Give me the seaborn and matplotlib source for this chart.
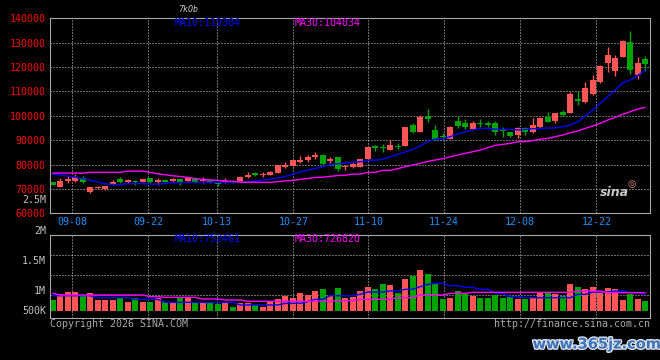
import matplotlib
matplotlib.use('Agg')
import matplotlib.pyplot as plt
import matplotlib.patheffects as pe
import matplotlib.transforms as mtransforms
import seaborn as sns
import numpy as np
import pandas as pd

# ----------- Data -----------
opens = [72960, 70900, 73300, 73400, 74600, 68700, 70300, 70000, 71900, 74000,
         72900, 73300, 72800, 74500, 72800, 73600, 73100, 74000, 73200, 74000,
         73200, 73500, 72400, 72600, 73300, 73000, 75000, 76700, 75900, 75900,
         76700, 79200, 79500, 81000, 81900, 83000, 84000, 81500, 83000, 79100,
         79200, 79000, 82300, 87500, 87000, 86000, 87700, 87700, 96200, 93500,
         100000, 94200, 91700, 90500, 98000, 96900, 94600, 96800, 97200, 96900,
         94400, 93300, 92100, 94800, 93500, 95500, 99500, 98000, 101400, 101300,
         107000, 105800, 108900, 113900, 121500, 118400, 124100, 130300, 116700, 123300]
highs = [73000, 74300, 75300, 76000, 75300, 70700, 71000, 71300, 73500, 74800,
         74000, 73700, 74100, 74600, 74600, 74200, 74600, 74400, 74900, 74300,
         75000, 73900, 72600, 74500, 73600, 75300, 76900, 76800, 76800, 77400,
         79900, 81000, 82000, 83500, 83900, 85100, 84300, 83200, 83300, 79800,
         81200, 82500, 87300, 88000, 88300, 90000, 88700, 95600, 96900, 100300,
         102800, 96200, 92800, 95700, 99900, 98700, 97700, 98700, 97700, 98000,
         95500, 93500, 95500, 95250, 98950, 99600, 101550, 101300, 102400, 109900,
         110000, 114000, 116700, 120800, 128400, 124900, 131100, 134800, 124000, 124500]
lows = [71500, 70800, 72300, 73000, 72300, 68400, 70000, 69600, 71500, 72300,
        72500, 71800, 72700, 72500, 71600, 72700, 72900, 71600, 73000, 72600,
        72300, 72400, 71400, 72400, 72400, 72900, 74300, 75300, 75000, 75700,
        76500, 78700, 79300, 80500, 81000, 82100, 80300, 80500, 77500, 77800,
        78600, 78800, 82000, 85700, 85300, 85800, 86200, 87500, 92800, 93200,
        97600, 90100, 90300, 90300, 95100, 94400, 94400, 95500, 95500, 92300,
        91400, 91500, 91000, 92100, 92800, 94800, 97300, 97200, 99900, 101000,
        104400, 105100, 108500, 113600, 118100, 116300, 124000, 117100, 114950, 118400]
closes = [71600, 73120, 74000, 74800, 72700, 70600, 70600, 71100, 73000, 72800,
          73600, 72800, 74000, 72800, 73500, 73000, 74200, 72700, 74300, 72700,
          73600, 73000, 71900, 73200, 72600, 74900, 75800, 75800, 76300, 77100,
          79800, 79800, 81900, 82000, 83200, 83900, 80400, 82400, 78000, 79500,
          80300, 82300, 87200, 86600, 86600, 88000, 87000, 95400, 93200, 99600,
          98700, 90500, 91200, 95300, 95900, 95500, 96900, 96500, 96200, 93500,
          93800, 91700, 94800, 93200, 96100, 98950, 97600, 101000, 100500, 108900,
          106200, 111300, 114700, 120600, 124900, 123850, 130700, 118800, 121800, 121400]
ma10 = [76000, 75700, 75300, 74800, 74200, 73600, 72800, 72100, 71800, 71800,
        72200, 72200, 72200, 72000, 71900, 72300, 72600, 72600, 72700, 72700,
        72700, 72700, 72700, 72700, 72800, 72800, 72900, 73240, 73650, 74060,
        74470, 75150, 75980, 76930, 77760, 78300, 79120, 79940, 80350, 80630,
        81000, 81100, 81700, 81800, 82130, 83220, 84180, 85140, 86230, 87600,
        89380, 90470, 90600, 91430, 92520, 93480, 94170, 94850, 94850, 94500,
        94430, 94430, 94160, 94400, 94700, 94700, 94980, 94980, 95530, 96210,
        97580, 99900, 102370, 105100, 107840, 110570, 113580, 114680, 116460, 118780]
ma30 = [76500, 76500, 76500, 76500, 76500, 76800, 76800, 76800, 76800, 76800,
        77300, 77300, 77300, 76800, 76200, 75800, 75400, 75100, 74700, 74300,
        73900, 73650, 73500, 73250, 73100, 72800, 72700, 72700, 72700, 72700,
        72960, 73300, 73500, 73900, 74300, 74700, 74800, 75150, 75500, 75600,
        76100, 76100, 76790, 76790, 77620, 77620, 78300, 79120, 79800, 80480,
        81300, 81850, 82400, 83220, 83900, 84590, 85270, 85960, 86920, 87870,
        88280, 88690, 89370, 89370, 89780, 90400, 90740, 91420, 92100, 93060,
        93750, 94840, 95800, 96900, 98260, 99350, 100590, 101680, 102780, 103460]
# volume in thousands
volume = [850, 944, 983, 983, 933, 967, 850, 850, 850, 889,
          822, 878, 822, 822, 889, 822, 806, 878, 878, 806,
          806, 806, 789, 806, 739, 794, 794, 767, 739, 822,
          867, 922, 889, 972, 933, 1006, 1033, 922, 1056, 889,
          906, 1000, 1067, 1033, 1117, 1100, 972, 1200, 1250, 1350,
          1283, 1117, 867, 889, 1000, 944, 917, 889, 889, 933,
          878, 906, 867, 867, 889, 978, 972, 950, 922, 1117,
          1067, 1033, 1067, 989, 1050, 1033, 850, 950, 867, 833]
vol_ma10 = [922, 922, 922, 922, 922, 922, 889, 889, 889, 889,
            889, 861, 861, 861, 861, 811, 811, 811, 811, 811,
            811, 811, 811, 811, 811, 767, 767, 767, 767, 767,
            767, 794, 794, 794, 822, 861, 861, 922, 922, 922,
            922, 944, 983, 983, 983, 1000, 1000, 1028, 1028, 1072,
            1111, 1128, 1128, 1089, 1089, 1061, 1061, 1028, 1028, 961,
            961, 906, 906, 889, 889, 889, 889, 889, 889, 889,
            944, 944, 983, 983, 983, 1000, 1000, 972, 972, 944]
vol_ma30 = [961, 933, 933, 933, 933, 933, 933, 933, 933, 933,
            933, 933, 933, 906, 906, 894, 894, 894, 894, 894,
            867, 867, 867, 850, 850, 850, 828, 828, 828, 828,
            828, 828, 828, 828, 828, 828, 828, 828, 839, 839,
            839, 861, 861, 861, 861, 861, 889, 889, 889, 933,
            933, 933, 933, 961, 961, 961, 978, 978, 978, 978,
            978, 978, 978, 978, 978, 978, 978, 978, 978, 978,
            1000, 1000, 1000, 1000, 972, 972, 972, 972, 972, 972]
vol_base = 667  # bars start here (thousands)

date_labels = ['09-08', '09-22', '10-13', '10-27', '11-10', '11-24', '12-08', '12-22']
date_pos = [2.6, 12.75, 21.9, 32.1, 42.1, 52.2, 62.3, 72.5]
price_ticks = [60000, 70000, 80000, 90000, 100000, 110000, 120000, 130000, 140000]
vol_labels = ['2M', '1.5M', '1M', '500K']
vol_label_vals = [2000, 1500, 1000, vol_base]
vol_grid = [1600, 1267, 933]

df = pd.DataFrame({'o': opens, 'h': highs, 'l': lows, 'c': closes,
                   'ma10': ma10, 'ma30': ma30,
                   'vol': np.array(volume) * 1000,
                   'vma10': np.array(vol_ma10) * 1000,
                   'vma30': np.array(vol_ma30) * 1000})
df['i'] = np.arange(len(df))

RED = '#ff5555'
GREEN = '#00a400'
GRID = '#d0d0d0'
FRAME = '#a8a8a8'
colors = np.where(df.c >= df.o, RED, GREEN)

# ----------- Style -----------
sns.set_theme(style='dark', rc={'axes.facecolor': 'black', 'figure.facecolor': 'black',
                                'axes.edgecolor': FRAME, 'axes.linewidth': 0.8})
plt.rcParams['font.family'] = ['DejaVu Sans Mono']
FS = 7.2

fig = plt.figure(figsize=(6.6, 3.6), dpi=100)
ax = fig.add_axes([50 / 660, 1 - 213.3 / 360, 600 / 660, 195 / 360])
axv = fig.add_axes([50 / 660, 1 - 318 / 360, 600 / 660, 83 / 360])

# ----------- Candles -----------
ax.vlines(df.i, df.l, df.h, color=colors, lw=1)
body = np.maximum((df.c - df.o).abs(), 350)
ax.bar(df.i, body, bottom=np.minimum(df.o, df.c), width=0.78, color=colors, lw=0)
sns.lineplot(x='i', y='ma10', data=df, ax=ax, color='#0000ff', lw=1)
sns.lineplot(x='i', y='ma30', data=df, ax=ax, color='#ff00ff', lw=1)

ax.set_xlim(-0.36, 79.64)
ax.set_ylim(60000, 140000)
ax.set_yticks(price_ticks)
ax.set_yticklabels([str(t) for t in price_ticks], color='#ff0000', fontsize=FS)
ax.set_xticks(date_pos)
ax.set_xticklabels(date_labels, color='#1e90ff', fontsize=FS)
ax.tick_params(length=0, pad=3)
ax.set_xlabel('')
ax.set_ylabel('')
ax.grid(True, color=GRID, linestyle=(0, (1, 2)), lw=0.72)
for s in ax.spines.values():
    s.set_color(FRAME)

ax.text(0.208, 0.976, 'MA10:119304', color='#0000ff', fontsize=FS,
        transform=ax.transAxes, va='center')
ax.text(0.408, 0.976, 'MA30:104034', color='#ff00ff', fontsize=FS,
        transform=ax.transAxes, va='center')
trans = mtransforms.blended_transform_factory(ax.transAxes, ax.transData)
ax.text(-0.0067, 65400, '2.5M', color='#c0c0c0', fontsize=FS, transform=trans,
        ha='right', va='center')
ax.text(0.94, 68500, 'sina', color='#c8c8c8', fontsize=9, fontweight='bold',
        style='italic', family='DejaVu Sans', transform=trans, ha='center', va='center')
ax.text(0.97, 72200, '◎', color='#ff8c8c', fontsize=7, family='DejaVu Sans',
        transform=trans, ha='center', va='center')

# ----------- Volume -----------
axv.bar(df.i, df.vol - vol_base * 1000, bottom=vol_base * 1000, width=0.82,
        color=colors, lw=0)
sns.lineplot(x='i', y='vma10', data=df, ax=axv, color='#0000ff', lw=1)
sns.lineplot(x='i', y='vma30', data=df, ax=axv, color='#ff00ff', lw=1)
axv.set_xlim(-0.36, 79.64)
axv.set_ylim(550000, 1933333)
axv.set_xticks(date_pos)
axv.set_xticklabels([])
axv.set_yticks([v * 1000 for v in vol_grid])
axv.set_yticklabels([])
axv.tick_params(length=0)
axv.set_xlabel('')
axv.set_ylabel('')
axv.grid(True, color=GRID, linestyle=(0, (1, 2)), lw=0.72)
for s in axv.spines.values():
    s.set_color(FRAME)

vtrans = mtransforms.blended_transform_factory(axv.transAxes, axv.transData)
for lab, v in zip(vol_labels, vol_label_vals):
    axv.text(-0.0067, v * 1000, lab, color='#c0c0c0', fontsize=FS, transform=vtrans,
             ha='right', va='center', clip_on=False)
axv.text(0.208, 0.952, 'MA10:752461', color='#0000ff', fontsize=FS,
         transform=axv.transAxes, va='center')
axv.text(0.408, 0.952, 'MA30:726820', color='#ff00ff', fontsize=FS,
         transform=axv.transAxes, va='center')

# ----------- Footer / header text -----------
fig.text(50 / 660, 1 - 324 / 360, 'Copyright 2026 SINA.COM', color='#a8a8a8',
         fontsize=FS, va='center')
fig.text(650 / 660, 1 - 324 / 360, 'http://finance.sina.com.cn', color='#a8a8a8',
         fontsize=FS, va='center', ha='right')
fig.text(188 / 660, 1 - 9 / 360, '7kOb', color='#c8c8c8', fontsize=6,
         style='italic', va='center', ha='center')
fig.text(597 / 660, 1 - 344 / 360, 'www.365jz.com', color='#3f72b5', fontsize=10.5,
         fontweight='bold', family='DejaVu Sans', va='center', ha='center',
         path_effects=[pe.withStroke(linewidth=2, foreground='#d8e0ee')])

plt.savefig('out.png', dpi=100, facecolor='black')
